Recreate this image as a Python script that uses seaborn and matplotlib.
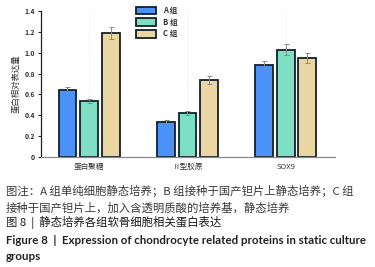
import matplotlib
matplotlib.use("Agg")
import matplotlib.pyplot as plt
import pandas as pd
import seaborn as sns

# данные
proteins = ["蛋白聚糖", "Ⅱ型胶原", "SOX9"]
groups = ["A 组", "B 组", "C 组"]
group_a = [0.64, 0.34, 0.88]
group_b = [0.54, 0.42, 1.03]
group_c = [1.19, 0.74, 0.95]
err_a = [0.03, 0.015, 0.04]
err_b = [0.02, 0.02, 0.05]
err_c = [0.06, 0.04, 0.05]

colors = ["#4a92f7", "#7ddfc3", "#e9d6a2"]

df = pd.DataFrame({
    "protein": proteins * 3,
    "group": [g for g in groups for _ in proteins],
    "value": group_a + group_b + group_c,
    "err": err_a + err_b + err_c,
})

sns.set_theme(style="white")
plt.rcParams["font.family"] = ["Noto Sans CJK SC", "DejaVu Sans"]

fig = plt.figure(figsize=(3.75, 2.67), dpi=100)
ax = fig.add_axes([0.109, 0.412, 0.784, 0.547])

sns.barplot(data=df, x="protein", y="value", hue="group", palette=colors,
            saturation=1, width=0.66, gap=0.18, errorbar=None,
            edgecolor="#15202a", linewidth=1.3, ax=ax)

# полосы ошибок поверх столбиков
for bars, grp in zip(ax.containers, groups):
    sub = df[df.group == grp]
    xs = [b.get_x() + b.get_width() / 2 for b in bars]
    ax.errorbar(xs, sub["value"], yerr=sub["err"], fmt="none",
                ecolor="#8a8a8a", elinewidth=0.7, capsize=1.8, capthick=0.7)

ax.set_xlim(-0.49, 2.5)
ax.set_ylim(0, 1.4)
ax.set_yticks([0, 0.2, 0.4, 0.6, 0.8, 1.0, 1.2, 1.4])
ax.set_yticklabels(["0", "0.2", "0.4", "0.6", "0.8", "1.0", "1.2", "1.4"],
                   fontsize=5, fontweight="bold", color="#333333")
ax.set_xticks(range(3))
ax.set_xticklabels(proteins, fontsize=5.5, color="#333333")
ax.set_xlabel("")
ax.set_ylabel("蛋白相对表达量", fontsize=6, color="#333333", labelpad=3)
ax.tick_params(axis="y", length=2, width=0.8, pad=2, left=True)
ax.tick_params(axis="x", length=0, pad=4)
ax.xaxis.grid(True, color="#f2f2f2", linewidth=0.5)
ax.set_axisbelow(True)
for s in ["top", "right"]:
    ax.spines[s].set_visible(False)
ax.spines["left"].set_color("#222222")
ax.spines["left"].set_linewidth(0.9)
ax.spines["bottom"].set_color("#888888")
ax.spines["bottom"].set_linewidth(0.9)

leg = ax.legend(loc="upper left", bbox_to_anchor=(0.30, 1.08), frameon=False,
                fontsize=5.5, handlelength=2.6, handleheight=1.2,
                labelspacing=0.35, handletextpad=1.0)
for t in leg.get_texts():
    t.set_fontweight("bold")
    t.set_color("#333333")

cap = "#3a3a3a"
fig.text(0.016, 0.284, "图注：A 组单纯细胞静态培养；B 组接种于国产钽片上静态培养；C 组",
         fontsize=8.2, color=cap, va="center")
fig.text(0.016, 0.222, "接种于国产钽片上，加入含透明质酸的培养基，静态培养",
         fontsize=8.2, color=cap, va="center")
fig.text(0.016, 0.166, "图 8  |  静态培养各组软骨细胞相关蛋白表达",
         fontsize=8.2, color="#1a1a1a", va="center", fontweight="medium")
fig.text(0.016, 0.101, "Figure 8  |  Expression of chondrocyte related proteins in static culture",
         fontsize=8.3, color="#222222", va="center", fontweight="bold",
         family=["Lato", "DejaVu Sans"])
fig.text(0.016, 0.041, "groups", fontsize=8.3, color="#222222", va="center",
         fontweight="bold", family=["Lato", "DejaVu Sans"])

fig.savefig("out.png", dpi=100)
